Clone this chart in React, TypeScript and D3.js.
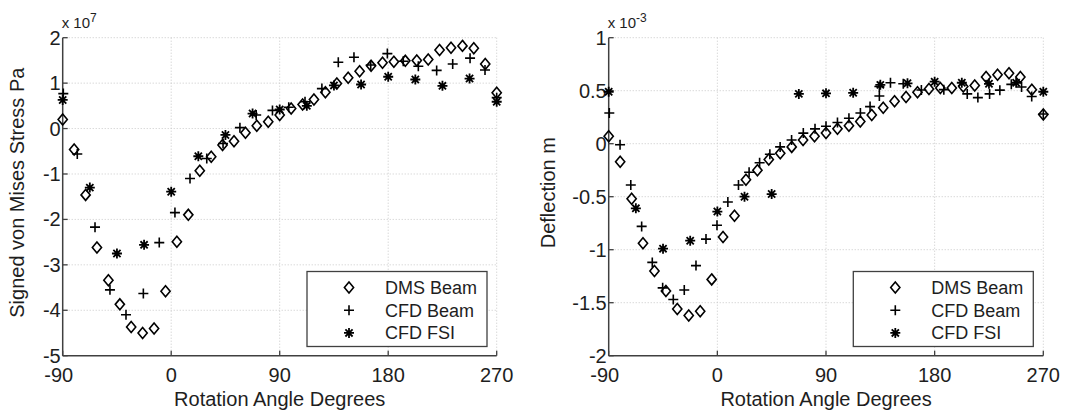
import React from "react";
import * as d3 from "d3";

// ---------- data ----------
const xTicks = [-90, 0, 90, 180, 270];

// DMS Beam sample angles (degrees)
const angleDMS = [-90, -80.5, -71, -61.6, -52.1, -42.6, -33.2, -23.7, -14.2, -4.7, 4.7, 14.2, 23.7, 33.2, 42.6, 52.1, 61.6, 71, 80.5, 90, 99.5, 109, 118.4, 127.9, 137.4, 146.8, 156.3, 165.8, 175.3, 184.7, 194.2, 203.7, 213.2, 222.6, 232.1, 241.6, 251, 260.5, 270];
// CFD FSI sample angles
const angleFSI = [-90, -67.5, -45, -22.5, 0, 22.5, 45, 67.5, 90, 112.5, 135, 157.5, 180, 202.5, 225, 247.5, 270];

// Left panel: signed von Mises stress (x 1e7 Pa)
const stressDMS = [0.2, -0.46, -1.46, -2.62, -3.34, -3.87, -4.37, -4.5, -4.4, -3.58, -2.49, -1.9, -0.93, -0.62, -0.36, -0.28, -0.09, 0.06, 0.15, 0.3, 0.44, 0.53, 0.64, 0.8, 0.99, 1.12, 1.26, 1.38, 1.45, 1.47, 1.49, 1.5, 1.52, 1.73, 1.78, 1.82, 1.77, 1.42, 0.79];
const angleCFDStress = [-89.5, -77.9, -63.2, -50.8, -37.5, -23.1, -9.9, 3.1, 15.6, 29.5, 43, 57, 70.5, 84, 97.5, 111, 125, 138.6, 151.6, 165.5, 179.3, 192.5, 205, 220.2, 233.5, 247.9, 260.3, 270];
const stressCFD = [0.77, -0.56, -2.17, -3.55, -4.1, -3.63, -2.51, -1.85, -1.1, -0.66, -0.33, 0.02, 0.3, 0.4, 0.47, 0.59, 0.88, 1.46, 1.57, 1.4, 1.65, 1.48, 1.37, 1.28, 1.42, 1.55, 1.29, 0.68];
const stressFSI = [0.63, -1.3, -2.75, -2.56, -1.39, -0.61, -0.14, 0.33, 0.42, 0.5, 0.95, 0.97, 1.14, 1.08, 0.94, 1.1, 0.59];

// Right panel: deflection (x 1e-3 m)
const deflDMS = [0.07, -0.17, -0.52, -0.94, -1.2, -1.39, -1.56, -1.62, -1.58, -1.28, -0.88, -0.68, -0.34, -0.25, -0.15, -0.09, -0.03, 0.035, 0.07, 0.1, 0.14, 0.17, 0.21, 0.27, 0.34, 0.4, 0.44, 0.485, 0.515, 0.525, 0.525, 0.54, 0.55, 0.63, 0.65, 0.665, 0.63, 0.51, 0.275];
const angleCFDDefl = [-89.5, -80.6, -71.7, -62.7, -53.9, -45.3, -36.5, -27.4, -17.7, -9.4, -0.3, 8.7, 17.5, 26.3, 35, 43.5, 52, 61.5, 71.2, 80.9, 90, 99.5, 109, 118.5, 126.5, 134.2, 134.2, 143.4, 154, 169, 187.6, 207, 215.8, 225.5, 234, 243.5, 252, 260.4, 270];
const deflCFD = [0.29, -0.01, -0.39, -0.78, -1.12, -1.36, -1.47, -1.38, -1.15, -0.9, -0.77, -0.55, -0.39, -0.27, -0.18, -0.1, -0.03, 0.035, 0.1, 0.14, 0.165, 0.2, 0.24, 0.29, 0.35, 0.45, 0.54, 0.575, 0.565, 0.507, 0.51, 0.47, 0.435, 0.47, 0.505, 0.56, 0.535, 0.445, 0.28];
const deflFSI = [0.49, -0.61, -0.99, -0.915, -0.64, -0.5, -0.475, 0.47, 0.475, 0.48, 0.555, 0.57, 0.585, 0.575, 0.565, 0.575, 0.49];

const stressTicks = [-5, -4, -3, -2, -1, 0, 1, 2];
const deflTicks = [-2, -1.5, -1, -0.5, 0, 0.5, 1];
const legendLabels = ["DMS Beam", "CFD Beam", "CFD FSI"];

// ---------- drawing ----------
const FONT = "'Liberation Sans', Arial, Helvetica, sans-serif";
const TXT = "#1e1e1e";
const AX = "#404040";

type Kind = "diamond" | "plus" | "star";

function Marker({ kind, x, y }: { kind: Kind; x: number; y: number }) {
  if (kind === "diamond") {
    return (
      <path
        d={`M${x},${y - 5.5}L${x + 4.6},${y}L${x},${y + 5.5}L${x - 4.6},${y}Z`}
        fill="none"
        stroke="#000"
        strokeWidth={1.6}
      />
    );
  }
  if (kind === "plus") {
    const r = 5;
    return (
      <path
        d={`M${x - r},${y}H${x + r}M${x},${y - r}V${y + r}`}
        stroke="#000"
        strokeWidth={1.6}
        fill="none"
      />
    );
  }
  const r = 5;
  const d = r * 0.72;
  return (
    <path
      d={`M${x - r},${y}H${x + r}M${x},${y - r}V${y + r}M${x - d},${y - d}L${x + d},${y + d}M${x - d},${y + d}L${x + d},${y - d}`}
      stroke="#000"
      strokeWidth={1.8}
      fill="none"
    />
  );
}

interface PanelProps {
  x0: number;
  x1: number;
  yTop: number;
  yBot: number;
  yDomain: [number, number];
  yTicks: number[];
  yLabel: string;
  yLabelX: number;
  exponent: string;
  tickFmt: (v: number) => string;
  dms: number[];
  cfdAngles: number[];
  cfd: number[];
  fsi: number[];
  legendX: number;
}

function Panel(p: PanelProps) {
  const x = d3.scaleLinear().domain([-90, 270]).range([p.x0, p.x1]);
  const y = d3.scaleLinear().domain(p.yDomain).range([p.yBot, p.yTop]);
  const midY = (p.yTop + p.yBot) / 2;
  const midX = (p.x0 + p.x1) / 2;
  const legY0 = 271.5;
  const legW = 180;
  const legH = 75;
  return (
    <g>
      {/* grid */}
      {xTicks.slice(1).map((t) => (
        <line key={"gx" + t} x1={x(t)} x2={x(t)} y1={p.yTop} y2={p.yBot} stroke="#c8c8c8" strokeWidth={1} strokeDasharray="1,2" />
      ))}
      {p.yTicks.slice(1).map((t) => (
        <line key={"gy" + t} x1={p.x0} x2={p.x1} y1={y(t)} y2={y(t)} stroke="#c8c8c8" strokeWidth={1} strokeDasharray="1,2" />
      ))}
      {/* axes */}
      <line x1={p.x0} x2={p.x0} y1={p.yTop} y2={p.yBot} stroke={AX} strokeWidth={1.5} />
      <line x1={p.x0} x2={p.x1} y1={p.yBot} y2={p.yBot} stroke={AX} strokeWidth={1.5} />
      {xTicks.map((t) => (
        <line key={"tx" + t} x1={x(t)} x2={x(t)} y1={p.yBot} y2={p.yBot - 5} stroke={AX} strokeWidth={1.3} />
      ))}
      {p.yTicks.map((t) => (
        <line key={"ty" + t} x1={p.x0} x2={p.x0 + 5} y1={y(t)} y2={y(t)} stroke={AX} strokeWidth={1.3} />
      ))}
      {/* tick labels */}
      {xTicks.map((t) => (
        <text key={"lx" + t} x={x(t) + (t < 0 ? -4 : 0)} y={p.yBot + 26} textAnchor="middle" fontSize={20} fontFamily={FONT} fill={TXT}>
          {String(t)}
        </text>
      ))}
      {p.yTicks.map((t) => (
        <text key={"ly" + t} x={p.x0 - 2} y={y(t) + 7} textAnchor="end" fontSize={20} fontFamily={FONT} fill={TXT}>
          {p.tickFmt(t)}
        </text>
      ))}
      {/* exponent */}
      <text x={p.x0 - 1} y={28} fontSize={15} fontFamily={FONT} fill={TXT}>
        x 10
        <tspan dy={-6} fontSize={12}>{p.exponent}</tspan>
      </text>
      {/* axis labels */}
      <text x={midX} y={406} textAnchor="middle" fontSize={20} fontFamily={FONT} fill={TXT}>
        Rotation Angle Degrees
      </text>
      <text
        transform={`translate(${p.yLabelX},${midY - 4}) rotate(-90)`}
        textAnchor="middle"
        fontSize={20}
        fontFamily={FONT}
        fill={TXT}
      >
        {p.yLabel}
      </text>
      {/* data */}
      {p.dms.map((v, i) => (
        <Marker key={"d" + i} kind="diamond" x={x(angleDMS[i])} y={y(v)} />
      ))}
      {p.cfd.map((v, i) => (
        <Marker key={"c" + i} kind="plus" x={x(p.cfdAngles[i])} y={y(v)} />
      ))}
      {p.fsi.map((v, i) => (
        <Marker key={"f" + i} kind="star" x={x(angleFSI[i])} y={y(v)} />
      ))}
      {/* legend */}
      <rect x={p.legendX} y={legY0} width={legW} height={legH} fill="#fff" stroke={AX} strokeWidth={1.3} />
      {legendLabels.map((lab, i) => {
        const cy = legY0 + 16 + i * 22.7;
        const kind: Kind = i === 0 ? "diamond" : i === 1 ? "plus" : "star";
        return (
          <g key={lab}>
            <Marker kind={kind} x={p.legendX + 42} y={cy} />
            <text x={p.legendX + 78} y={cy + 6.5} fontSize={18} fontFamily={FONT} fill={TXT}>
              {lab}
            </text>
          </g>
        );
      })}
    </g>
  );
}

export default function App() {
  return (
    <svg
      width={1065}
      height={416}
      style={{ position: "absolute", left: 0, top: 0, background: "#fff" }}
    >
      <rect width={1065} height={416} fill="#fff" />
      <Panel
        x0={62.7}
        x1={496.7}
        yTop={37.7}
        yBot={355.7}
        yDomain={[-5, 2]}
        yTicks={stressTicks}
        yLabel="Signed von Mises Stress Pa"
        yLabelX={24}
        exponent="7"
        tickFmt={(v) => String(v)}
        dms={stressDMS}
        cfdAngles={angleCFDStress}
        cfd={stressCFD}
        fsi={stressFSI}
        legendX={307}
      />
      <Panel
        x0={608.7}
        x1={1043.3}
        yTop={37.7}
        yBot={355.7}
        yDomain={[-2, 1]}
        yTicks={deflTicks}
        yLabel="Deflection m"
        yLabelX={555}
        exponent="-3"
        tickFmt={(v) => String(v)}
        dms={deflDMS}
        cfdAngles={angleCFDDefl}
        cfd={deflCFD}
        fsi={deflFSI}
        legendX={853.3}
      />
    </svg>
  );
}
